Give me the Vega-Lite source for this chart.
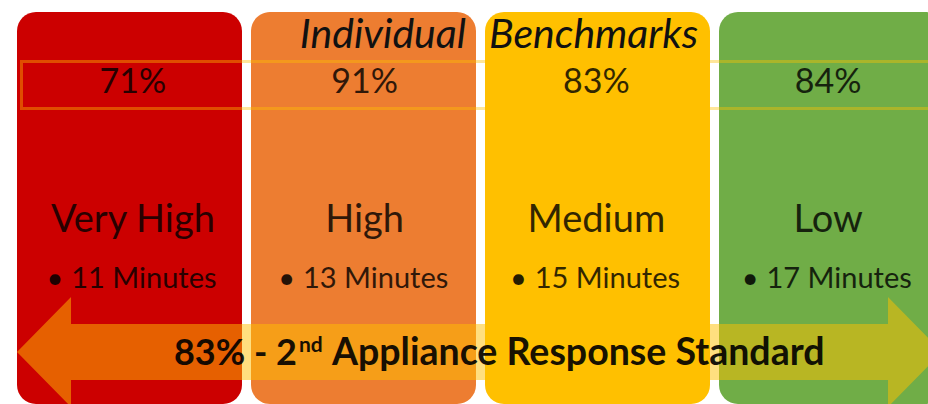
{
  "$schema": "https://vega.github.io/schema/vega-lite/v6.json",
  "width": 928,
  "height": 404,
  "autosize": {"type": "none"},
  "padding": 0,
  "background": "white",
  "config": {"view": {"stroke": null}, "axis": {"disable": true}, "text": {"font": "Lato"}},
  "datasets": {
    "levels": [
      {"level": "Very High", "share": 0.71, "time": "11 Minutes"},
      {"level": "High", "share": 0.91, "time": "13 Minutes"},
      {"level": "Medium", "share": 0.83, "time": "15 Minutes"},
      {"level": "Low", "share": 0.84, "time": "17 Minutes"}
    ]
  },
  "resolve": {"scale": {"x": "independent", "y": "independent", "color": "independent"}},
  "layer": [
    {
      "data": {"name": "levels"},
      "mark": {"type": "rect", "cornerRadius": 19},
      "encoding": {
        "x": {"field": "level", "type": "nominal", "sort": ["Very High", "High", "Medium", "Low"], "scale": {"domain": ["Very High", "High", "Medium", "Low"], "range": [17, 944], "paddingInner": 0.0385, "paddingOuter": 0}, "axis": null},
        "y": {"datum": 12, "type": "quantitative", "scale": {"domain": [0, 404], "reverse": true, "nice": false, "zero": false}, "axis": null},
        "y2": {"datum": 404},
        "color": {"field": "level", "type": "nominal", "scale": {"domain": ["Very High", "High", "Medium", "Low"], "range": ["#CC0000", "#ED7D31", "#FFC000", "#70AD47"]}, "legend": null}
      }
    },
    {
      "data": {"values": [{"part": "band"}]},
      "mark": {"type": "rect", "filled": false, "stroke": "#FFC000", "strokeOpacity": 0.4, "strokeWidth": 3},
      "encoding": {
        "x": {"datum": 21.5, "type": "quantitative", "scale": {"domain": [0, 928], "nice": false, "zero": false}, "axis": null},
        "x2": {"datum": 960},
        "y": {"datum": 61.5, "type": "quantitative", "scale": {"domain": [0, 404], "reverse": true, "nice": false, "zero": false}, "axis": null},
        "y2": {"datum": 108.5}
      }
    },
    {
      "data": {"values": [{"part": "arrow"}]},
      "mark": {"type": "point", "shape": "M -1 0 L -0.8832 -0.1189 L -0.8832 -0.0605 L 0.8832 -0.0605 L 0.8832 -0.1189 L 1 0 L 0.8832 0.1189 L 0.8832 0.0605 L -0.8832 0.0605 L -0.8832 0.1189 Z", "size": 855625, "filled": true, "fill": "#FFC000", "opacity": 0.5, "strokeWidth": 0},
      "encoding": {
        "x": {"datum": 479.5, "type": "quantitative", "scale": {"domain": [0, 928], "nice": false, "zero": false}, "axis": null},
        "y": {"datum": 352, "type": "quantitative", "scale": {"domain": [0, 404], "reverse": true, "nice": false, "zero": false}, "axis": null}
      }
    },
    {
      "data": {"values": [{"t": "Individual"}]},
      "mark": {"type": "text", "align": "right", "baseline": "alphabetic", "fontSize": 41, "fontStyle": "italic", "fill": "#111111"},
      "encoding": {
        "x": {"datum": 466, "type": "quantitative", "scale": {"domain": [0, 928], "nice": false, "zero": false}, "axis": null},
        "y": {"datum": 48, "type": "quantitative", "scale": {"domain": [0, 404], "reverse": true, "nice": false, "zero": false}, "axis": null},
        "text": {"field": "t"}
      }
    },
    {
      "data": {"values": [{"t": "Benchmarks"}]},
      "mark": {"type": "text", "align": "left", "baseline": "alphabetic", "fontSize": 41, "fontStyle": "italic", "fill": "#111111"},
      "encoding": {
        "x": {"datum": 489, "type": "quantitative", "scale": {"domain": [0, 928], "nice": false, "zero": false}, "axis": null},
        "y": {"datum": 48, "type": "quantitative", "scale": {"domain": [0, 404], "reverse": true, "nice": false, "zero": false}, "axis": null},
        "text": {"field": "t"}
      }
    },
    {
      "data": {"name": "levels"},
      "mark": {"type": "text", "align": "center", "baseline": "alphabetic", "fontSize": 34, "fill": "#000000", "opacity": 0.8},
      "encoding": {
        "x": {"field": "level", "type": "nominal", "sort": ["Very High", "High", "Medium", "Low"], "scale": {"domain": ["Very High", "High", "Medium", "Low"], "range": [17, 944], "paddingInner": 0.0385, "paddingOuter": 0}, "axis": null},
        "y": {"datum": 93, "type": "quantitative", "scale": {"domain": [0, 404], "reverse": true, "nice": false, "zero": false}, "axis": null},
        "text": {"field": "share", "type": "quantitative", "format": ".0%"}
      }
    },
    {
      "data": {"name": "levels"},
      "mark": {"type": "text", "align": "center", "baseline": "alphabetic", "fontSize": 38, "fill": "#000000", "opacity": 0.8},
      "encoding": {
        "x": {"field": "level", "type": "nominal", "sort": ["Very High", "High", "Medium", "Low"], "scale": {"domain": ["Very High", "High", "Medium", "Low"], "range": [17, 944], "paddingInner": 0.0385, "paddingOuter": 0}, "axis": null},
        "y": {"datum": 232, "type": "quantitative", "scale": {"domain": [0, 404], "reverse": true, "nice": false, "zero": false}, "axis": null},
        "text": {"field": "level"}
      }
    },
    {
      "data": {"name": "levels"},
      "mark": {"type": "text", "align": "center", "baseline": "alphabetic", "fontSize": 29, "dx": 11, "fill": "#000000", "opacity": 0.8},
      "encoding": {
        "x": {"field": "level", "type": "nominal", "sort": ["Very High", "High", "Medium", "Low"], "scale": {"domain": ["Very High", "High", "Medium", "Low"], "range": [17, 944], "paddingInner": 0.0385, "paddingOuter": 0}, "axis": null},
        "y": {"datum": 288, "type": "quantitative", "scale": {"domain": [0, 404], "reverse": true, "nice": false, "zero": false}, "axis": null},
        "text": {"field": "time"}
      }
    },
    {
      "data": {"name": "levels"},
      "mark": {"type": "text", "align": "center", "baseline": "alphabetic", "fontSize": 29, "dx": -78, "fill": "#000000", "opacity": 0.85},
      "encoding": {
        "x": {"field": "level", "type": "nominal", "sort": ["Very High", "High", "Medium", "Low"], "scale": {"domain": ["Very High", "High", "Medium", "Low"], "range": [17, 944], "paddingInner": 0.0385, "paddingOuter": 0}, "axis": null},
        "y": {"datum": 288, "type": "quantitative", "scale": {"domain": [0, 404], "reverse": true, "nice": false, "zero": false}, "axis": null},
        "text": {"value": "•"}
      }
    },
    {
      "data": {"values": [{"t": "83% - 2"}]},
      "mark": {"type": "text", "align": "right", "baseline": "alphabetic", "fontSize": 36, "fontWeight": "bold", "fill": "#000000", "opacity": 0.9},
      "encoding": {
        "x": {"datum": 297, "type": "quantitative", "scale": {"domain": [0, 928], "nice": false, "zero": false}, "axis": null},
        "y": {"datum": 365, "type": "quantitative", "scale": {"domain": [0, 404], "reverse": true, "nice": false, "zero": false}, "axis": null},
        "text": {"field": "t"}
      }
    },
    {
      "data": {"values": [{"t": "nd"}]},
      "mark": {"type": "text", "align": "left", "baseline": "alphabetic", "fontSize": 21, "fontWeight": "bold", "fill": "#000000", "opacity": 0.9},
      "encoding": {
        "x": {"datum": 299, "type": "quantitative", "scale": {"domain": [0, 928], "nice": false, "zero": false}, "axis": null},
        "y": {"datum": 352, "type": "quantitative", "scale": {"domain": [0, 404], "reverse": true, "nice": false, "zero": false}, "axis": null},
        "text": {"field": "t"}
      }
    },
    {
      "data": {"values": [{"t": "Appliance Response Standard"}]},
      "mark": {"type": "text", "align": "left", "baseline": "alphabetic", "fontSize": 37.5, "fontWeight": "bold", "fill": "#000000", "opacity": 0.9},
      "encoding": {
        "x": {"datum": 332, "type": "quantitative", "scale": {"domain": [0, 928], "nice": false, "zero": false}, "axis": null},
        "y": {"datum": 365, "type": "quantitative", "scale": {"domain": [0, 404], "reverse": true, "nice": false, "zero": false}, "axis": null},
        "text": {"field": "t"}
      }
    }
  ]
}
